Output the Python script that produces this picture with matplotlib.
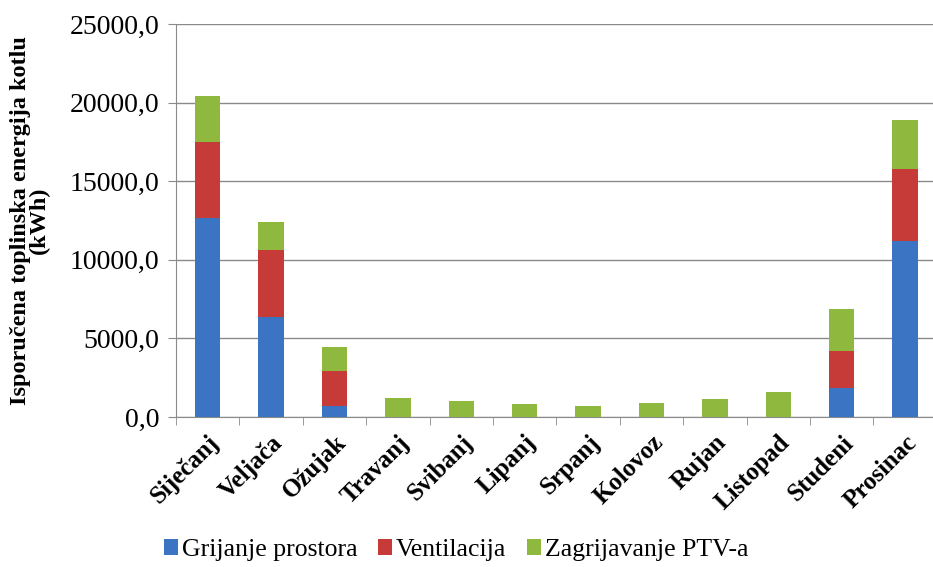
from matplotlib import pyplot as plt
from matplotlib.ticker import FixedLocator, FuncFormatter
import numpy as np

plt.rcParams['font.family'] = ['Liberation Serif', 'DejaVu Serif']

months = ["Siječanj", "Veljača", "Ožujak", "Travanj", "Svibanj", "Lipanj",
          "Srpanj", "Kolovoz", "Rujan", "Listopad", "Studeni", "Prosinac"]
grijanje = [12660, 6340, 700, 0, 0, 0, 0, 0, 0, 0, 1830, 11200]
ventilacija = [4840, 4280, 2230, 0, 0, 0, 0, 0, 0, 0, 2370, 4580]
ptv = [2920, 1770, 1540, 1190, 1000, 830, 720, 910, 1120, 1570, 2690, 3110]
series_names = ["Grijanje prostora", "Ventilacija", "Zagrijavanje PTV-a"]
colors = ["#3b74c2", "#c63b37", "#8fb83f"]

x = np.arange(len(months))
g = np.array(grijanje)
v = np.array(ventilacija)
p = np.array(ptv)

fig = plt.figure(figsize=(9.33, 5.67), dpi=100)
ax = fig.add_axes([0.1886, 0.2646, 0.8114, 0.6931])

ax.bar(x, g, 0.4, color=colors[0], label=series_names[0], zorder=3)
ax.bar(x, v, 0.4, bottom=g, color=colors[1], label=series_names[1], zorder=3)
ax.bar(x, p, 0.4, bottom=g + v, color=colors[2], label=series_names[2], zorder=3)

ax.set_xlim(-0.5, len(months) - 0.56)
ax.set_ylim(0, 25000)
ax.set_yticks(np.arange(0, 25001, 5000))
ax.yaxis.set_major_formatter(FuncFormatter(lambda val, pos: "{:.1f}".format(val).replace(".", ",")))
ax.grid(True, axis="y", color="#8a8a8a", linewidth=1.0, zorder=0)

for s in ["top", "right"]:
	ax.spines[s].set_visible(False)
ax.spines["left"].set_color("#8a8a8a")
ax.spines["bottom"].set_color("#8a8a8a")

ax.set_xticks(x)
ax.set_xticklabels(months, rotation=45, ha="right", rotation_mode="anchor",
                   fontsize=18, fontweight="bold")
ax.tick_params(axis="x", which="major", length=0, pad=10)
ax.xaxis.set_minor_locator(FixedLocator(np.arange(-0.5, len(months), 1)))
ax.tick_params(axis="x", which="minor", length=6, color="#8a8a8a")
ax.tick_params(axis="y", labelsize=20, length=6, color="#8a8a8a", pad=6)

ax.set_ylabel("Isporučena toplinska energija kotlu\n(kWh)", fontsize=17.5,
              fontweight="bold", linespacing=0.85, labelpad=14)

fig.legend(loc="center", bbox_to_anchor=(0.489, 0.03), ncol=3, frameon=False,
           fontsize=18.5, handlelength=0.55, handleheight=0.55, handletextpad=0.15,
           columnspacing=0.8)

fig.savefig("out.png")
plt.close(fig)
